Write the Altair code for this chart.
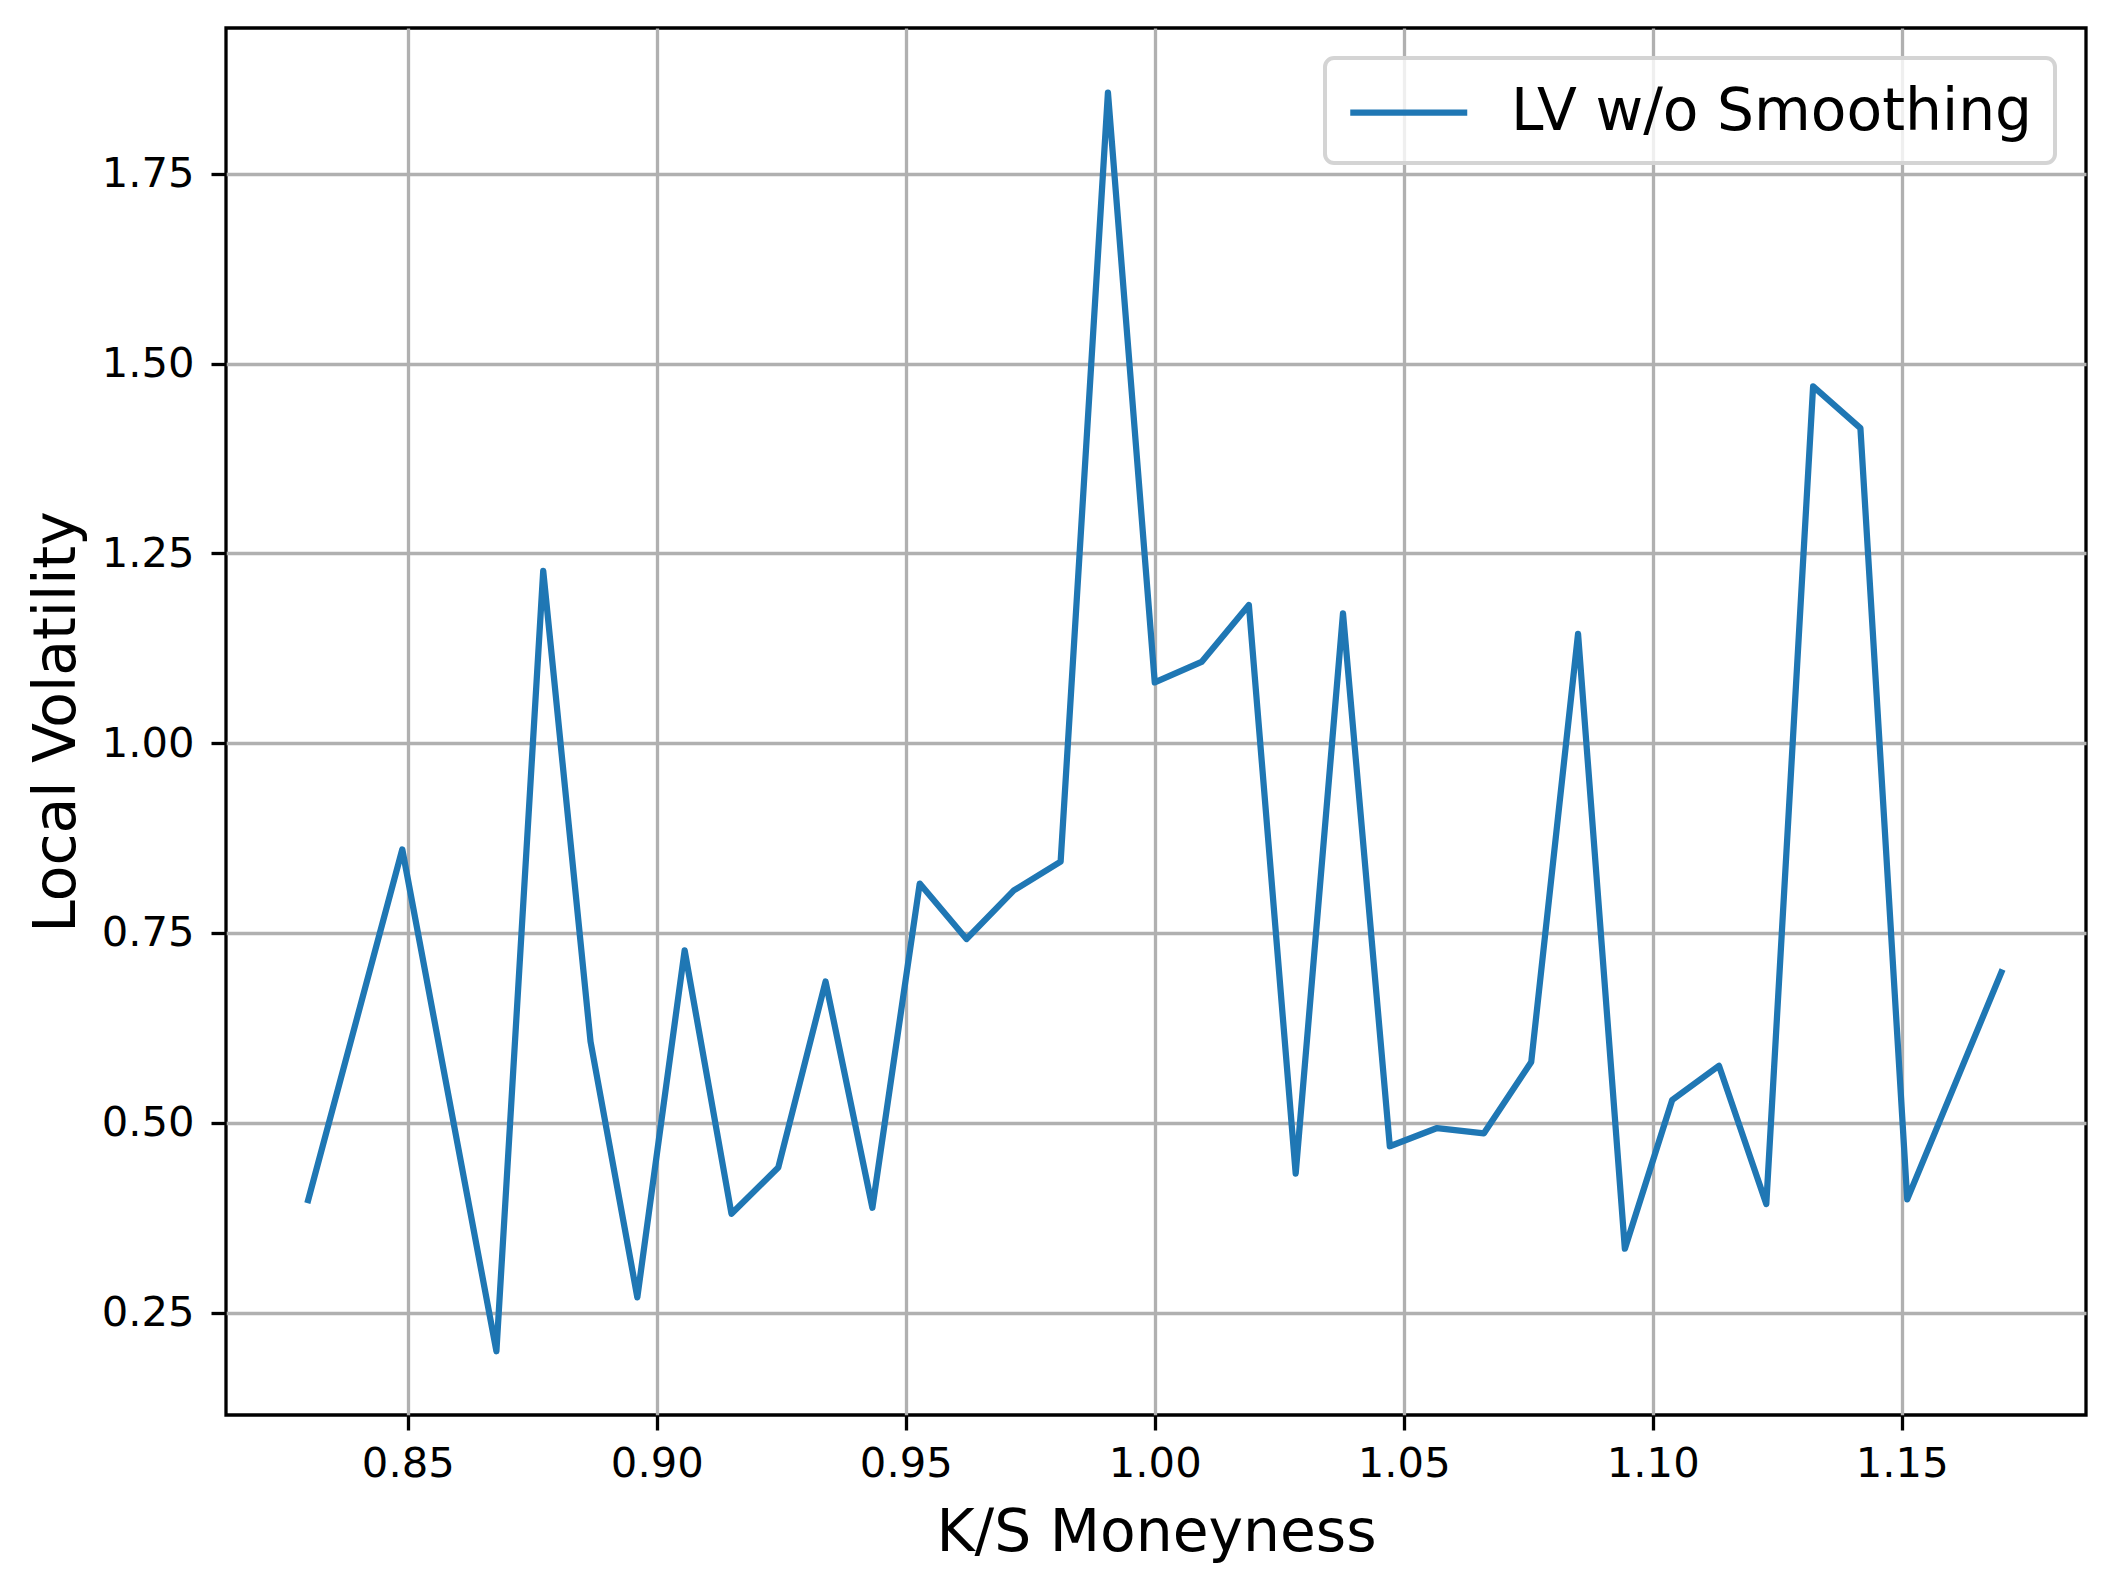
import altair as alt
import pandas as pd

# K/S moneyness grid positions
moneyness = [0.8300, 0.8489, 0.8678, 0.8772, 0.8867, 0.8961, 0.9056, 0.9150,
             0.9244, 0.9339, 0.9433, 0.9528, 0.9622, 0.9717, 0.9811, 0.9906,
             1.0000, 1.0094, 1.0189, 1.0283, 1.0378, 1.0472, 1.0567, 1.0661,
             1.0756, 1.0850, 1.0944, 1.1039, 1.1133, 1.1228, 1.1322, 1.1417,
             1.1511, 1.1700]
# Local volatility values
local_vol = [0.398, 0.860, 0.199, 1.227, 0.607, 0.270, 0.727, 0.380,
             0.441, 0.686, 0.388, 0.815, 0.742, 0.806, 0.844, 1.857,
             1.080, 1.107, 1.182, 0.433, 1.171, 0.469, 0.493, 0.486,
             0.580, 1.144, 0.334, 0.530, 0.575, 0.393, 1.470, 1.415,
             0.399, 0.698]
series_name = "LV w/o Smoothing"
x_ticks = [0.85, 0.90, 0.95, 1.00, 1.05, 1.10, 1.15]
y_ticks = [0.25, 0.50, 0.75, 1.00, 1.25, 1.50, 1.75]

df = pd.DataFrame({"m": moneyness, "lv": local_vol, "series": series_name})

FONT = "DejaVu Sans"
W, H = 1860, 1387

chart = alt.Chart(df).mark_line(
    strokeWidth=6.25, strokeJoin="round", strokeCap="square", clip=True
).encode(
    x=alt.X("m:Q", scale=alt.Scale(domain=[0.8135, 1.187], nice=False, zero=False),
            axis=alt.Axis(title="K/S Moneyness", values=x_ticks, format=".2f",
                          labelFontSize=41.7, labelPadding=13, labelFont=FONT,
                          labelColor="black", tickSize=15, tickWidth=3.3, tickColor="black",
                          grid=True, gridColor="#b0b0b0", gridWidth=3.3, domain=False,
                          titleFont=FONT, titleFontSize=58.3, titleFontWeight="normal",
                          titleColor="black", titleX=W / 2, titleY=135,
                          titleBaseline="alphabetic", titleAlign="center",
                          labelFlush=False)),
    y=alt.Y("lv:Q", scale=alt.Scale(domain=[0.115, 1.942], nice=False, zero=False),
            axis=alt.Axis(title="Local Volatility", values=y_ticks, format=".2f",
                          labelFontSize=41.7, labelPadding=17, labelFont=FONT,
                          labelColor="black", tickSize=15, tickWidth=3.3, tickColor="black",
                          grid=True, gridColor="#b0b0b0", gridWidth=3.3, domain=False,
                          titleFont=FONT, titleFontSize=58.3, titleFontWeight="normal",
                          titleColor="black", titleX=-152, titleY=H / 2, titleAngle=270,
                          titleBaseline="alphabetic", titleAlign="center",
                          labelFlush=False)),
    color=alt.Color("series:N", scale=alt.Scale(range=["#1f77b4"]),
                    legend=alt.Legend(title=None, orient="none", legendX=1099, legendY=30,
                                      symbolType="M-1,0H3", symbolSize=3422,
                                      symbolStrokeWidth=6.25, labelFontSize=58.3,
                                      labelFont=FONT, labelColor="black", labelOffset=99,
                                      padding=22, cornerRadius=9, strokeColor="#d4d4d4",
                                      fillColor="rgba(255,255,255,0.8)", labelLimit=1000)),
).properties(
    width=W, height=H,
    autosize=alt.AutoSizeParams(type="none"),
    padding={"left": 218, "top": 20, "right": 15, "bottom": 160},
).configure_view(
    stroke="black", strokeWidth=3.3
).configure_legend(
    strokeWidth=4
)

chart.save("out.html", embed_options={"renderer": "svg", "actions": False})
